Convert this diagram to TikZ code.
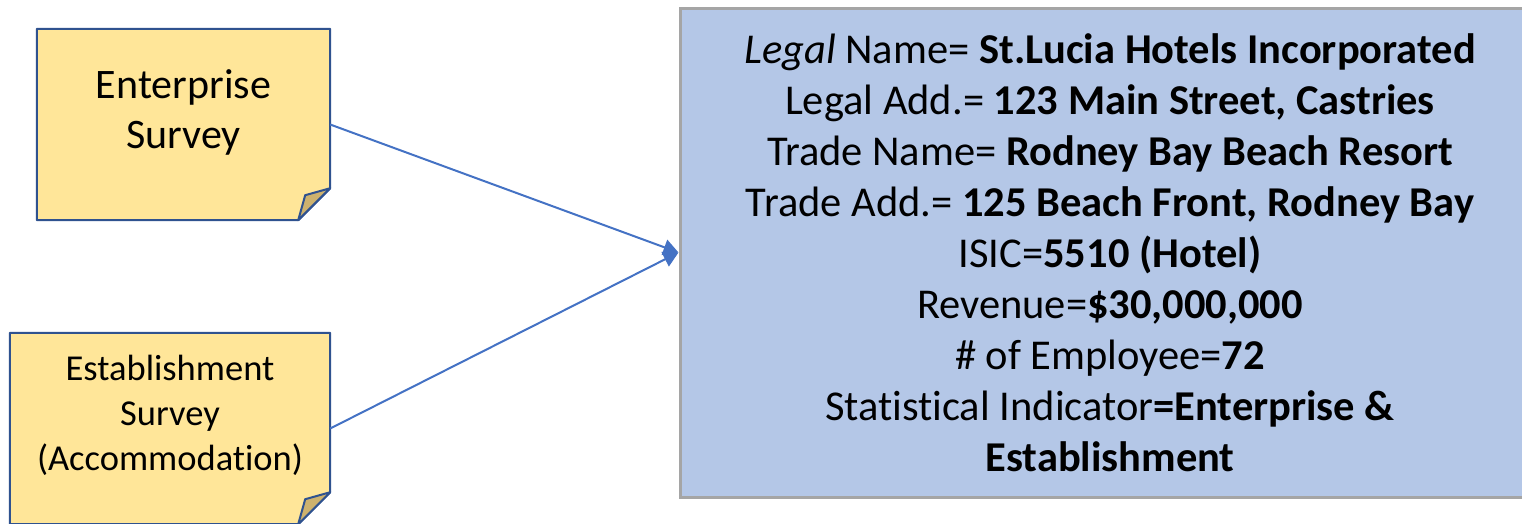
\documentclass[tikz,border=0pt]{standalone}
\usepackage{fontspec}
\setmainfont{Carlito}[Ligatures=NoCommon]
\usetikzlibrary{arrows.meta}
\definecolor{notefill}{HTML}{FFE699}
\definecolor{noteline}{HTML}{2F528F}
\definecolor{foldfill}{HTML}{CDB26E}
\definecolor{boxfill}{HTML}{B4C7E7}
\definecolor{boxline}{HTML}{A5A5A5}
\definecolor{arrowblue}{HTML}{4472C4}
\begin{document}
\begin{tikzpicture}[x=1pt,y=-1pt,
		>={Triangle[width=16pt,length=15pt]},
		note/.style={minimum height=191pt,inner sep=0pt},
		noteborder/.style={draw=noteline,line width=2pt,fill=notefill,line join=round},
		notefold/.style={draw=noteline,line width=2pt,fill=foldfill,line join=round},
		notetext/.style={align=center,inner sep=0pt},
		infobox/.style={draw=boxline,line width=3pt,fill=boxfill,minimum width=860pt,minimum height=489pt,align=center,
			font=\fontsize{42.5}{51}\selectfont},
		connector/.style={->,draw=arrowblue,fill=arrowblue,line width=2pt}]
		
		\useasboundingbox (0,0) rectangle (1522,523);
		\clip (0,0) rectangle (1522,523);
		
		\node[note,minimum width=293pt] (ent) at (183.5,124.5) {};
		\node[note,minimum width=320pt] (est) at (170,428.5) {};
		
		% sticky notes with a turned-up corner
		\foreach \n in {ent,est} {
			\draw[noteborder] (\n.north west) -- (\n.north east) -- ([yshift=32pt]\n.south east)
				-- ([xshift=-32pt]\n.south east) -- (\n.south west) -- cycle;
			\draw[notefold] ([yshift=32pt]\n.south east) -- ([xshift=-32pt]\n.south east)
				-- ([xshift=-25pt,yshift=25pt]\n.south east) -- cycle;
		}
		\node[notetext,font=\fontsize{42}{50}\selectfont] (enttext) at ([yshift=12pt]ent.center) {Enterprise\\Survey};
		\node[notetext,font=\fontsize{36.5}{45}\selectfont] (esttext) at ([yshift=13pt]est.center) {Establishment\\Survey\\(Accommodation)};
		
		\node[infobox] (rec) at (1110,252.5) {\textit{Legal} Name= \textbf{St.Lucia Hotels Incorporated}\\
			Legal Add.= \textbf{123 Main Street, Castries}\\
			Trade Name= \textbf{Rodney Bay Beach Resort}\\
			Trade Add.= \textbf{125 Beach Front, Rodney Bay}\\
			ISIC=\textbf{5510 (Hotel)}\\
			Revenue=\textbf{\$30,000,000}\\
			\# of Employee=\textbf{72}\\
			Statistical Indicator\textbf{=Enterprise \&}\\
			\textbf{Establishment}};
		
		\draw[connector] (ent.east) -- (rec.west);
		\draw[connector] (est.east) -- (rec.west);
		\end{tikzpicture}
\end{document}
